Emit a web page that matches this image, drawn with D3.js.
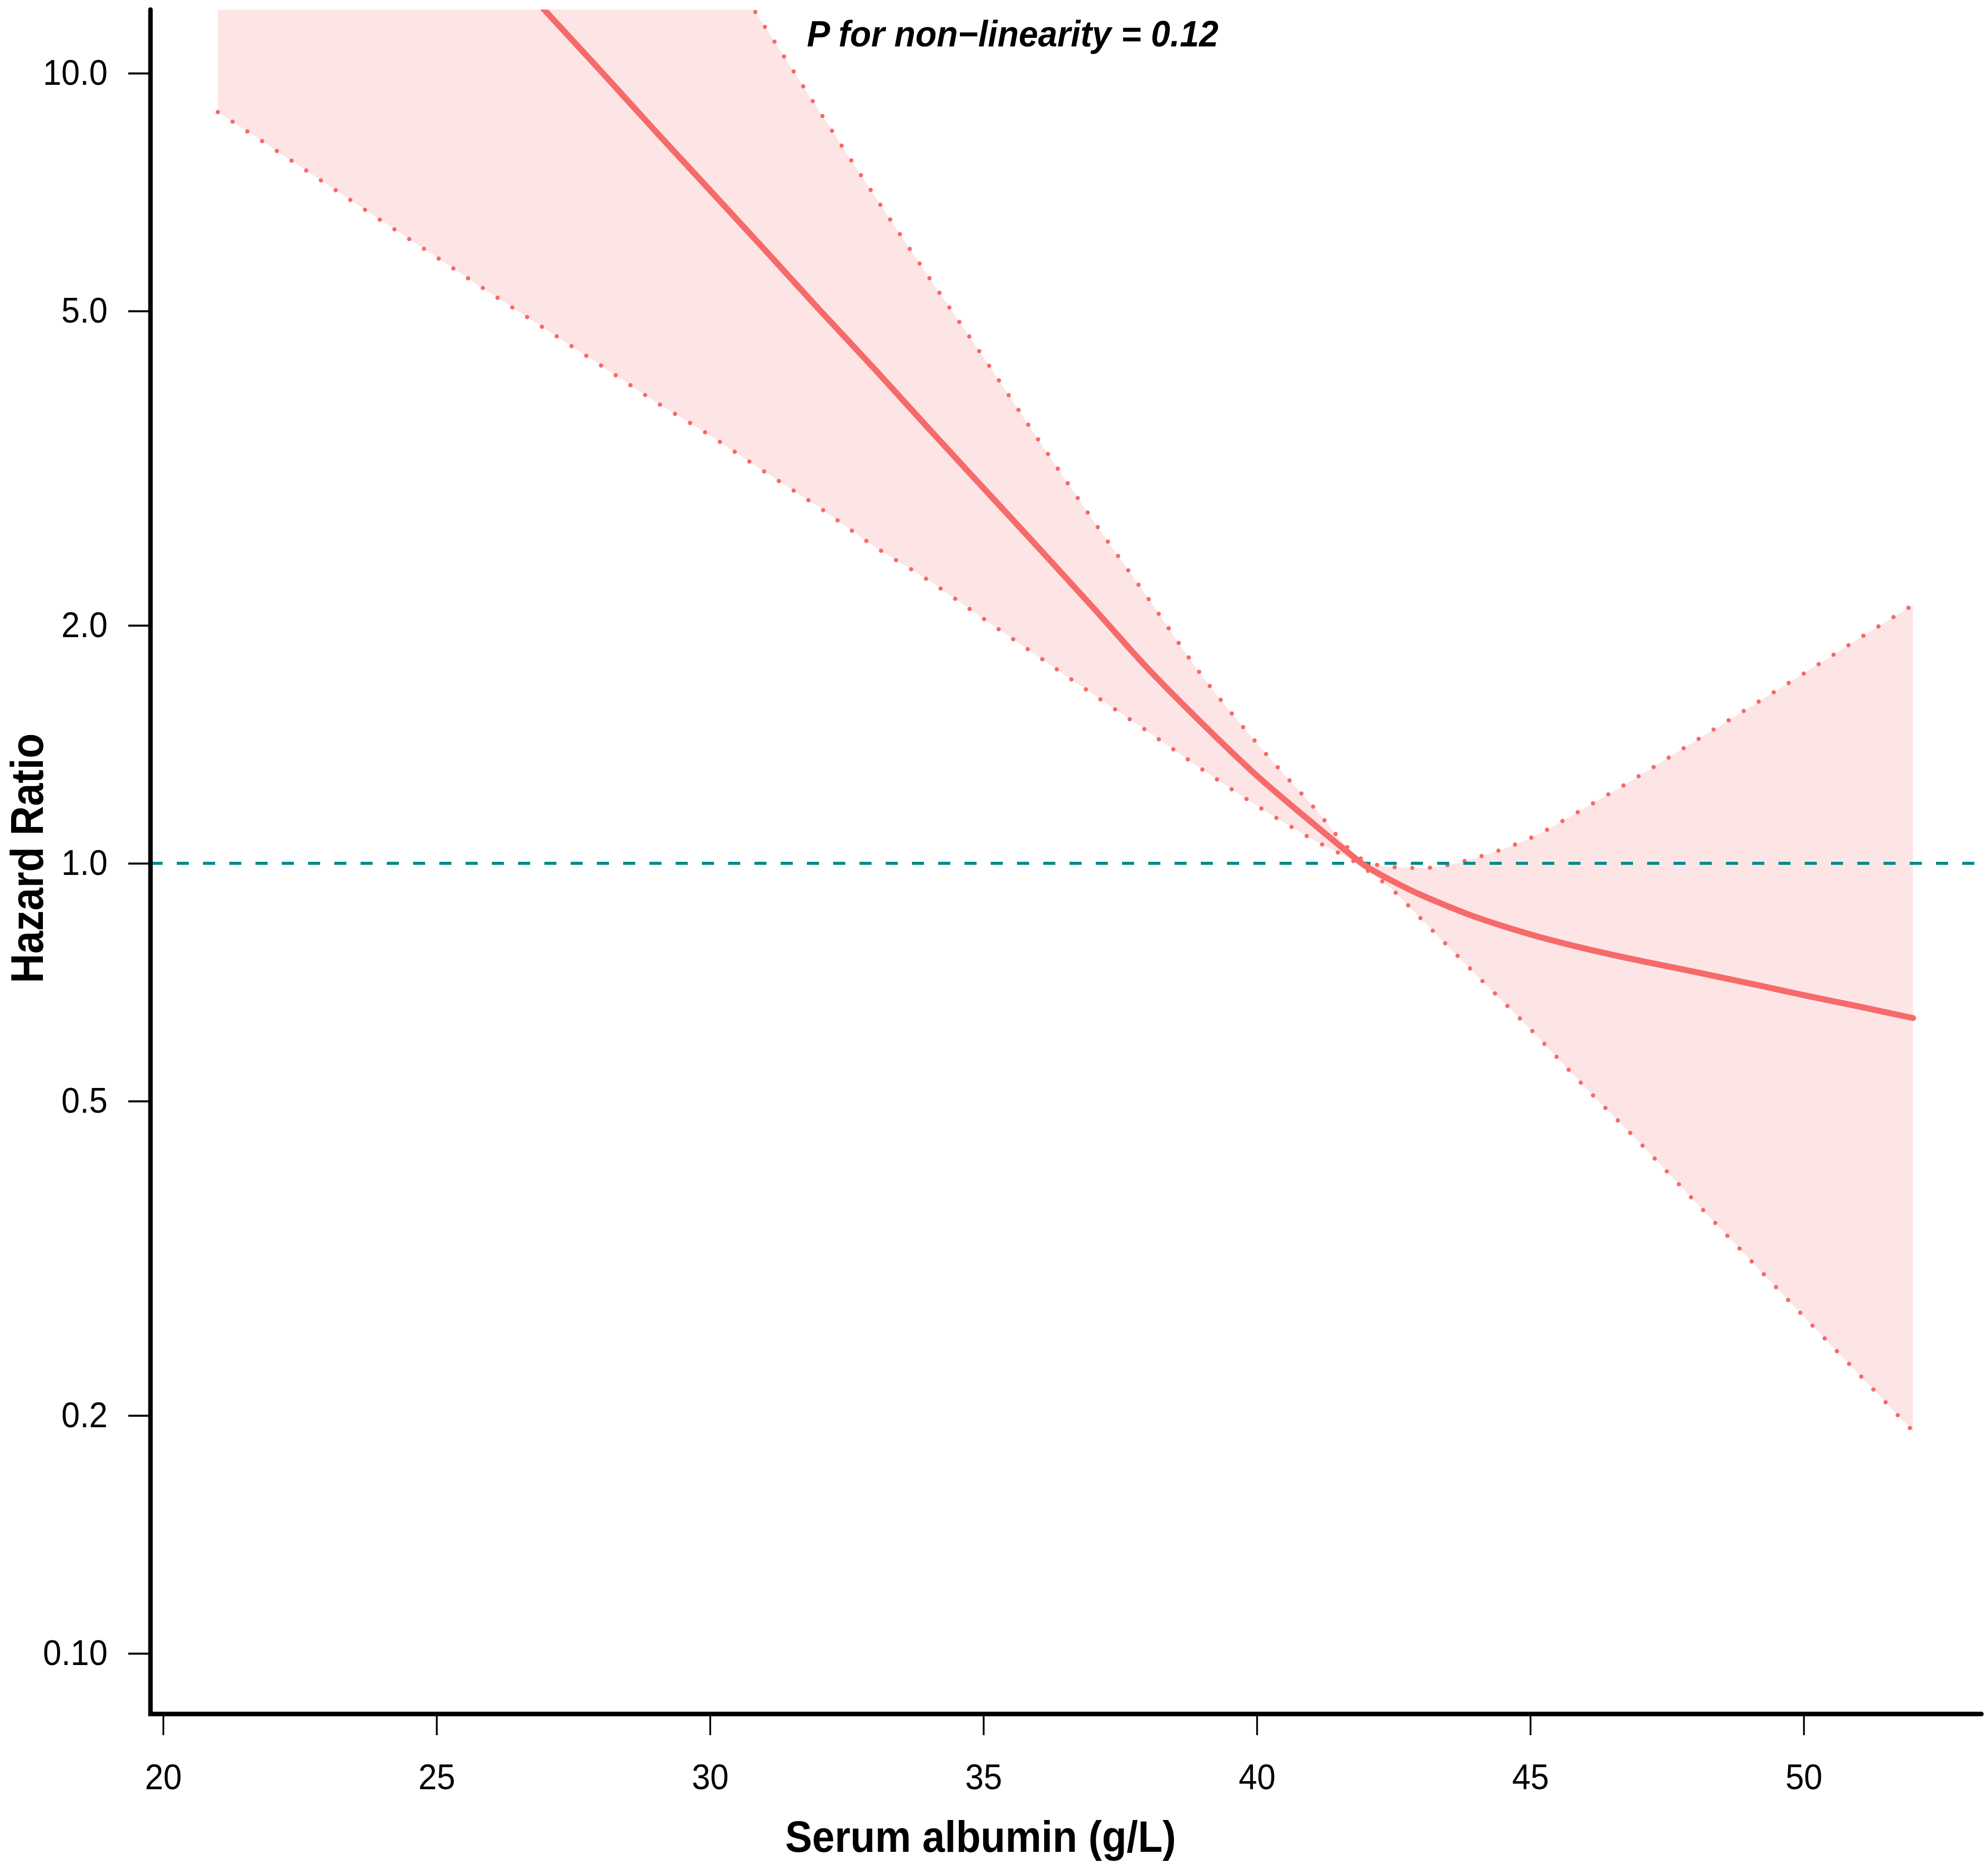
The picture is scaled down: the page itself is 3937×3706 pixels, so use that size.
<!DOCTYPE html>
<html><head><meta charset="utf-8">
<script src="https://cdn.jsdelivr.net/npm/d3@7"></script>
<style>html,body{margin:0;padding:0;background:#fff;} svg{display:block;}</style>
</head><body>
<svg id="chart" width="3937" height="3706"></svg>
<script>
// ---- data ----
const albumin = [21,22,23,24,25,26,27,28,29,30,31,32,33,34,35,36,37,38,39,40,41,41.9,42,42.5,43,43.5,44,45,46,47,48,49,50,51,52];
const hrFit   = [33.96,28.51,23.99,20.14,16.94,14.26,11.97,10.07,8.45,7.11,5.98,5.02,4.23,3.55,2.985,2.512,2.109,1.766,1.503,1.291,1.127,1.002,0.991,0.948,0.912,0.882,0.855,0.813,0.780,0.753,0.729,0.705,0.681,0.659,0.637];
const hrLower = [8.93,8.04,7.23,6.50,5.85,5.26,4.74,4.27,3.84,3.48,3.13,2.82,2.52,2.28,2.04,1.828,1.637,1.469,1.315,1.183,1.074,0.993,0.982,0.923,0.851,0.785,0.724,0.617,0.521,0.443,0.374,0.316,0.267,0.226,0.191];
const hrUpper = [134.6,105.2,82.2,64.3,50.2,39.3,30.7,24.0,18.75,14.66,11.46,8.95,7.01,5.52,4.37,3.44,2.72,2.17,1.726,1.419,1.186,1.014,1.005,0.989,0.986,0.995,1.016,1.076,1.175,1.291,1.426,1.574,1.738,1.923,2.123];
const xTicks = [20,25,30,35,40,45,50];
const yTicks = [0.1,0.2,0.5,1,2,5,10];
const yTickLabels = ["0.10","0.2","0.5","1.0","2.0","5.0","10.0"];
const refHR = 1;
const titleText = "P for non\u2212linearity = 0.12";
const xLabel = "Serum albumin (g/L)";
const yLabel = "Hazard Ratio";

// ---- layout ----
const FONT = "'Liberation Sans', Arial, Helvetica, sans-serif";
const plot = {left:298, right:3924, top:19, bottom:3395};
const lineCol = "#F66A6A", fillCol = "#FDE5E5", refCol = "#008B8B";

const x = d3.scaleLinear().domain([19.769, 53.25]).range([plot.left, plot.right]);
const y = d3.scaleLog().domain([Math.pow(10,-1.0767), Math.pow(10,1.0805)]).range([plot.bottom, plot.top]);

const svg = d3.select("#chart");
svg.append("rect").attr("width",3937).attr("height",3706).attr("fill","#fff");

svg.append("defs").append("clipPath").attr("id","clip")
  .append("rect").attr("x",plot.left).attr("y",plot.top)
  .attr("width",plot.right-plot.left).attr("height",plot.bottom-plot.top);

const rows = albumin.map((a,i)=>({a, fit:hrFit[i], lo:hrLower[i], hi:hrUpper[i]}));
const g = svg.append("g").attr("clip-path","url(#clip)");

const curve = d3.curveMonotoneX;
g.append("path").datum(rows)
  .attr("d", d3.area().curve(curve).x(d=>x(d.a)).y0(d=>y(d.lo)).y1(d=>y(d.hi)))
  .attr("fill", fillCol).attr("stroke","none");

["lo","hi"].forEach(k=>{
  g.append("path").datum(rows)
    .attr("d", d3.line().curve(curve).x(d=>x(d.a)).y(d=>y(d[k])))
    .attr("fill","none").attr("stroke",lineCol).attr("stroke-width",8.5)
    .attr("stroke-linecap","round").attr("stroke-dasharray","0 35");
});

g.append("line")
  .attr("x1",plot.left).attr("x2",plot.right)
  .attr("y1",y(refHR)).attr("y2",y(refHR))
  .attr("stroke",refCol).attr("stroke-width",6).attr("stroke-dasharray","24 28");

g.append("path").datum(rows)
  .attr("d", d3.line().curve(d3.curveCatmullRom.alpha(0.5)).x(d=>x(d.a)).y(d=>y(d.fit)))
  .attr("fill","none").attr("stroke",lineCol).attr("stroke-width",12)
  .attr("stroke-linecap","round").attr("stroke-linejoin","round");

// ---- axes ----
const tickScale = 0.94;
const yAxis = d3.axisLeft(y).tickValues(yTicks).tickFormat((d,i)=>yTickLabels[i])
  .tickSize(44).tickSizeOuter(0).tickPadding(41);
const ya = svg.append("g").attr("transform",`translate(${plot.left},0)`).call(yAxis);
ya.select(".domain").remove();
ya.selectAll(".tick line").attr("stroke","#000").attr("stroke-width",4);
ya.selectAll(".tick text").attr("font-family",FONT).attr("font-size",70).attr("fill","#000")
  .attr("x", -85/tickScale).attr("transform",`scale(${tickScale},1)`);

const xAxis = d3.axisBottom(x).tickValues(xTicks).tickFormat(d3.format("d"))
  .tickSize(42).tickSizeOuter(0).tickPadding(57);
const xa = svg.append("g").attr("transform",`translate(0,${plot.bottom})`).call(xAxis);
xa.select(".domain").remove();
xa.selectAll(".tick line").attr("stroke","#000").attr("stroke-width",3.5);
xa.selectAll(".tick text").attr("font-family",FONT).attr("font-size",70).attr("fill","#000")
  .attr("transform",`scale(${tickScale},1)`);

// L-shaped axis lines
svg.append("path")
  .attr("d", d3.line()([[plot.left, plot.top],[plot.left, plot.bottom],[plot.right, plot.bottom]]))
  .attr("fill","none").attr("stroke","#000").attr("stroke-width",9)
  .attr("stroke-linecap","round").attr("stroke-linejoin","miter");

// ---- texts ----
svg.append("text").attr("transform","translate(1598,92) scale(0.955,1)")
  .attr("font-family",FONT).attr("font-size",72).attr("font-weight","bold").attr("font-style","italic")
  .attr("fill","#000").text(titleText);

svg.append("text").attr("transform","translate(1942,3668) scale(0.91,1)").attr("text-anchor","middle")
  .attr("font-family",FONT).attr("font-size",88).attr("font-weight","bold")
  .attr("fill","#000").text(xLabel);

svg.append("text").attr("transform","translate(85,1700) rotate(-90) scale(0.9,1)").attr("text-anchor","middle")
  .attr("font-family",FONT).attr("font-size",90).attr("font-weight","bold")
  .attr("fill","#000").text(yLabel);
</script>
</body></html>
